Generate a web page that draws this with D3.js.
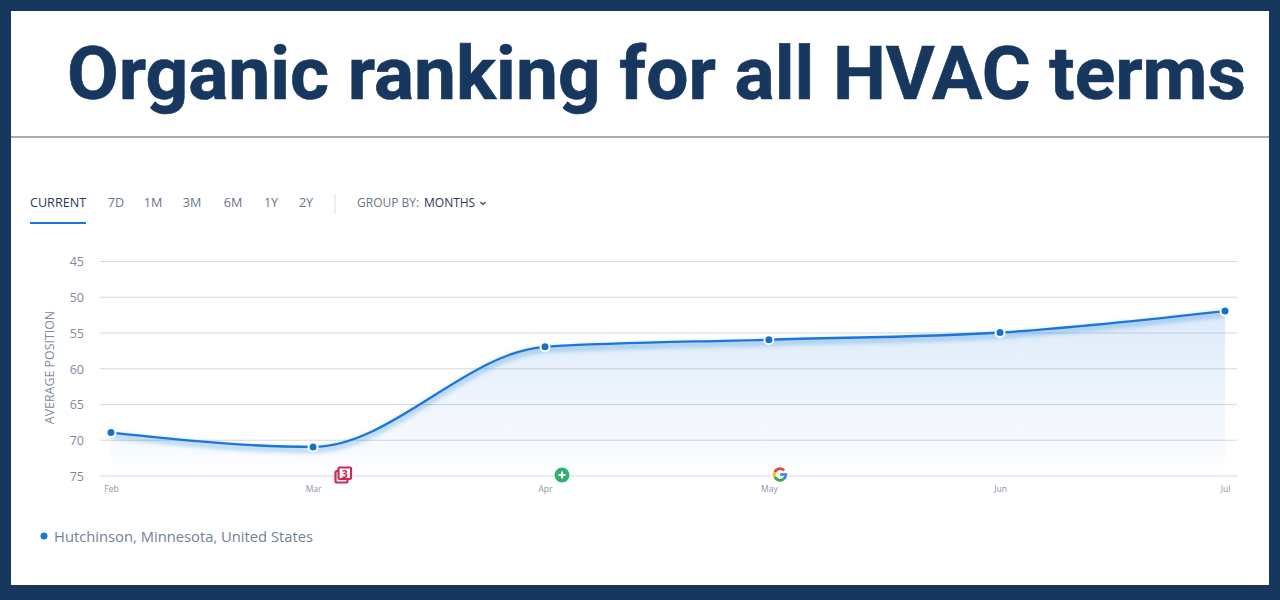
<!DOCTYPE html>
<html>
<head>
<meta charset="utf-8">
<script src="https://cdn.jsdelivr.net/npm/d3@7"></script>
<style>
html, body { margin: 0; padding: 0; background: #fff; }
svg { display: block; }
text { font-family: "Open Sans", sans-serif; }
</style>
</head>
<body>
<script>
var dates = ["2021-02-01T00:00Z", "2021-02-28T05:00Z", "2021-03-31T10:30Z", "2021-04-30T14:00Z", "2021-05-31T17:00Z", "2021-07-01T00:00Z"];
var months = ["Feb", "Mar", "Apr", "May", "Jun", "Jul"];
var positions = [69, 71, 57, 56, 55, 52];
var yTicks = [45, 50, 55, 60, 65, 70, 75];
var tabs = ["7D", "1M", "3M", "6M", "1Y", "2Y"];
var tabX = [116, 153, 192, 233, 271, 306];

var width = 1280, height = 600;
var navy = "#17375e", blue = "#1a76d8";

var parsed = dates.map(function (d) { return new Date(d); });
var series = parsed.map(function (d, i) { return { date: d, value: positions[i] }; });

var x = d3.scaleUtc().domain([parsed[0], parsed[5]]).range([111, 1225]);
var y = d3.scaleLinear().domain([45, 75]).range([261, 475.5]);

var svg = d3.select("body").append("svg")
    .attr("width", width)
    .attr("height", height);

// frame
svg.append("rect").attr("width", width).attr("height", height).attr("fill", navy);
svg.append("rect").attr("x", 11).attr("y", 11).attr("width", 1258).attr("height", 574).attr("fill", "#fff");

svg.append("text")
    .attr("x", 67)
    .attr("y", 98.5)
    .attr("fill", navy)
    .attr("stroke", navy)
    .attr("stroke-width", 0.7)
    .attr("textLength", 1179)
    .attr("lengthAdjust", "spacingAndGlyphs")
    .style("font-family", "Roboto")
    .style("font-weight", 700)
    .style("font-size", "75px")
    .text("Organic ranking for all HVAC terms");

svg.append("line")
    .attr("x1", 11).attr("x2", 1269)
    .attr("y1", 137).attr("y2", 137)
    .attr("stroke", "#a9abb0")
    .attr("stroke-width", 2);

// tab bar
svg.append("text").attr("x", 30).attr("y", 207)
    .attr("fill", "#2c3a55").style("font-size", "12.6px").text("CURRENT");
svg.append("rect").attr("x", 30).attr("y", 222).attr("width", 56).attr("height", 2).attr("fill", blue);
svg.selectAll(".tab")
    .data(tabs)
    .enter()
    .append("text")
    .attr("class", "tab")
    .attr("x", function (d, i) { return tabX[i]; })
    .attr("y", 207)
    .attr("text-anchor", "middle")
    .attr("fill", "#6a7488")
    .style("font-size", "12.6px")
    .text(function (d) { return d; });
svg.append("line").attr("x1", 335).attr("x2", 335).attr("y1", 194).attr("y2", 214).attr("stroke", "#dcdfe6");
svg.append("text").attr("x", 357).attr("y", 207)
    .attr("fill", "#6a7488").style("font-size", "12px").text("GROUP BY:");
svg.append("text").attr("x", 424).attr("y", 207)
    .attr("fill", "#2c3a55").style("font-size", "12px").text("MONTHS");
svg.append("path").attr("d", "M480.5 202l2.5 2.5 2.5-2.5")
    .attr("fill", "none").attr("stroke", "#2c3a55").attr("stroke-width", 1.2);

var defs = svg.append("defs");
var grad = defs.append("linearGradient")
    .attr("id", "areaFill")
    .attr("gradientUnits", "userSpaceOnUse")
    .attr("x1", 0).attr("x2", 0)
    .attr("y1", y(52)).attr("y2", y(75));
grad.append("stop").attr("offset", 0).attr("stop-color", "#1a76d8").attr("stop-opacity", 0.15);
grad.append("stop").attr("offset", 1).attr("stop-color", "#1a76d8").attr("stop-opacity", 0.01);
defs.append("filter").attr("id", "glow")
    .attr("x", "-5%").attr("y", "-30%").attr("width", "110%").attr("height", "160%")
    .append("feGaussianBlur").attr("stdDeviation", 2.5);

// grid + y axis
var yAxis = svg.append("g")
    .attr("transform", "translate(100,0)")
    .call(d3.axisLeft(y).tickValues(yTicks).tickSize(-1137).tickPadding(16));
yAxis.select(".domain").remove();
yAxis.selectAll(".tick line").attr("stroke", "#d6d8e1").attr("stroke-width", 1.2);
yAxis.selectAll(".tick text")
    .attr("fill", "#7d8a9e")
    .attr("dy", "0.38em")
    .style("font-size", "12.5px");

svg.append("text")
    .attr("transform", "translate(54,367.5) rotate(-90)")
    .attr("text-anchor", "middle")
    .attr("fill", "#7d8a9e")
    .style("font-size", "12.4px")
    .text("AVERAGE POSITION");

// x axis
var xAxis = svg.append("g")
    .attr("transform", "translate(0,475.5)")
    .call(d3.axisBottom(x)
        .tickValues(parsed)
        .tickSize(0)
        .tickPadding(10.5)
        .tickFormat(function (d, i) { return months[i]; }));
xAxis.select(".domain").remove();
xAxis.selectAll(".tick text")
    .attr("fill", "#8a95a8")
    .style("font-size", "8.5px");

// area and line
var curve = d3.curveMonotoneX;
var area = d3.area()
    .x(function (d) { return x(d.date); })
    .y0(y(75))
    .y1(function (d) { return y(d.value); })
    .curve(curve);
var line = d3.line()
    .x(function (d) { return x(d.date); })
    .y(function (d) { return y(d.value); })
    .curve(curve);

svg.append("path").datum(series).attr("d", area).attr("fill", "url(#areaFill)");
svg.append("path").datum(series).attr("d", line)
    .attr("fill", "none")
    .attr("stroke", "#1a76d8")
    .attr("stroke-opacity", 0.4)
    .attr("stroke-width", 4)
    .attr("transform", "translate(0,3)")
    .attr("filter", "url(#glow)");
svg.append("path").datum(series).attr("d", line)
    .attr("fill", "none")
    .attr("stroke", blue)
    .attr("stroke-width", 2.3);

svg.selectAll(".dot")
    .data(series)
    .enter()
    .append("circle")
    .attr("class", "dot")
    .attr("cx", function (d) { return x(d.date); })
    .attr("cy", function (d) { return y(d.value); })
    .attr("r", 4.5)
    .attr("fill", "#1470d0")
    .attr("stroke", "#fff")
    .attr("stroke-width", 2);

// event markers on the axis
var red = svg.append("g").attr("transform", "translate(343,475)");
red.append("rect").attr("x", -7.5).attr("y", -4).attr("width", 12).attr("height", 11.5).attr("rx", 1.5)
    .attr("fill", "#fff").attr("stroke", "#cf2a55").attr("stroke-width", 2.2);
red.append("rect").attr("x", -4.5).attr("y", -7.5).attr("width", 12.5).attr("height", 11.5).attr("rx", 1)
    .attr("fill", "#fff").attr("stroke", "#cf2a55").attr("stroke-width", 2.2);
red.append("text").attr("x", 1.8).attr("y", 2.6).attr("text-anchor", "middle")
    .attr("fill", "#cf2a55").style("font-size", "10.5px").style("font-weight", 700).text("3");

var green = svg.append("g").attr("transform", "translate(562,475)");
green.append("circle").attr("r", 7.5).attr("fill", "#2fb171");
green.append("path").attr("d", "M-3.5 0H3.5M0 -3.5V3.5").attr("stroke", "#fff").attr("stroke-width", 2);

var g = svg.append("g").attr("transform", "translate(780,474.5)");
g.append("circle").attr("r", 9.5).attr("fill", "#fff");
var gArc = d3.arc().innerRadius(4.4).outerRadius(7.2);
var gParts = [
    { a0: -65, a1: 45, c: "#ea4335" },
    { a0: -115, a1: -65, c: "#fbbc05" },
    { a0: 140, a1: 245, c: "#34a853" },
    { a0: 90, a1: 140, c: "#4285f4" }
];
gParts.forEach(function (p) {
    g.append("path")
        .attr("d", gArc({ startAngle: p.a0 * Math.PI / 180, endAngle: p.a1 * Math.PI / 180 }))
        .attr("fill", p.c);
});
g.append("rect").attr("x", 0).attr("y", -1.3).attr("width", 7.2).attr("height", 2.6).attr("fill", "#4285f4");

// legend
svg.append("circle").attr("cx", 44).attr("cy", 536).attr("r", 3.5).attr("fill", blue);
svg.append("text").attr("x", 54).attr("y", 542)
    .attr("fill", "#6f8296")
    .style("font-size", "14.75px")
    .text("Hutchinson, Minnesota, United States");
</script>
</body>
</html>
